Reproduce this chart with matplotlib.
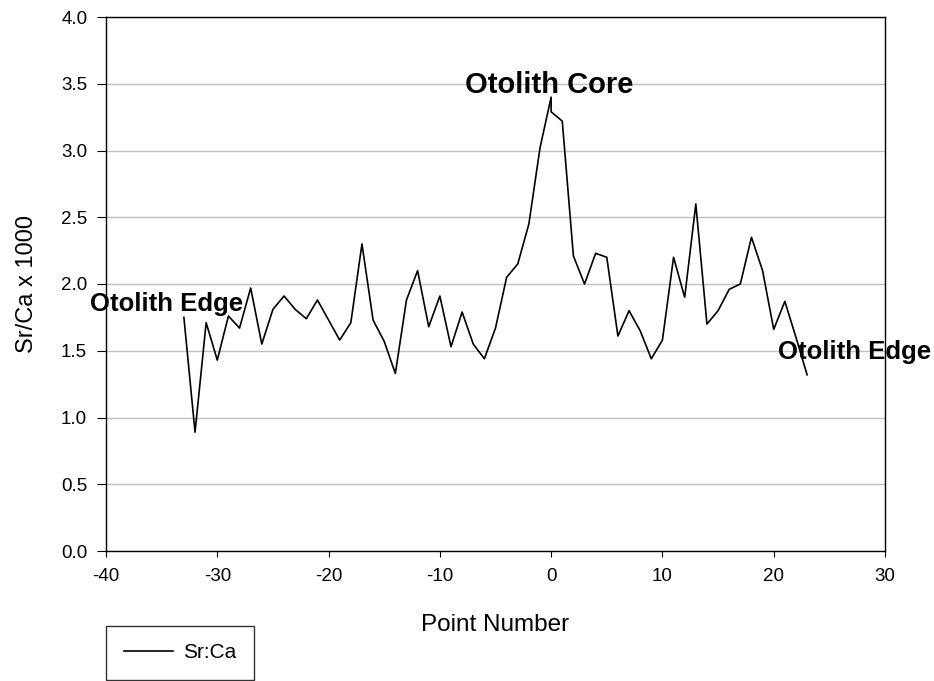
import matplotlib
matplotlib.use("Agg")
import matplotlib.pyplot as plt

plt.rcParams['font.family'] = ['Liberation Sans', 'DejaVu Sans']

point_number = [-33, -32, -31, -30, -29, -28, -27, -26, -25, -24, -23, -22, -21, -20,
                -19, -18, -17, -16, -15, -14, -13, -12, -11, -10, -9, -8, -7, -6,
                -5, -4, -3, -2, -1, 0, 0, 1, 2, 3, 4, 5, 6, 7, 8, 9, 10, 11, 12,
                13, 14, 15, 16, 17, 18, 19, 20, 21, 22, 23]
sr_ca = [1.75, 0.89, 1.71, 1.43, 1.76, 1.67, 1.97, 1.55, 1.81, 1.91, 1.81, 1.74, 1.88, 1.73,
         1.58, 1.71, 2.30, 1.73, 1.57, 1.33, 1.88, 2.10, 1.68, 1.91, 1.53, 1.79, 1.55, 1.44,
         1.67, 2.05, 2.15, 2.45, 3.02, 3.40, 3.29, 3.22, 2.21, 2.00, 2.23, 2.20, 1.61, 1.80,
         1.65, 1.44, 1.58, 2.20, 1.90, 2.60, 1.70, 1.80, 1.96, 2.00, 2.35, 2.10, 1.66, 1.87,
         1.60, 1.32]

x_ticks = [-40, -30, -20, -10, 0, 10, 20, 30]
y_ticks = [0.0, 0.5, 1.0, 1.5, 2.0, 2.5, 3.0, 3.5, 4.0]

fig = plt.figure(figsize=(9.34, 6.81), dpi=100)
ax = fig.add_axes([106/934, 1-551/681, (885-106)/934, (551-17)/681])

ax.plot(point_number, sr_ca, color='black', lw=1.2, label='Sr:Ca')

ax.set_xlim(-40, 30)
ax.set_ylim(0, 4)
ax.set_xticks(x_ticks)
ax.set_yticks(y_ticks)
ax.set_xticklabels([str(t) for t in x_ticks])
ax.set_yticklabels([f"{t:.1f}" for t in y_ticks])
ax.tick_params(axis='both', labelsize=13.5, direction='out', color='black')
ax.tick_params(axis='y', length=6.5, pad=7)
ax.tick_params(axis='x', length=4.5, pad=8)
ax.grid(axis='y', color='#c0c0c0', lw=1.0)
ax.set_axisbelow(True)
for s in ['left', 'bottom', 'top', 'right']:
    ax.spines[s].set_color('black')
    ax.spines[s].set_linewidth(1.0)

ax.set_xlabel('Point Number', fontsize=17.5)
ax.xaxis.set_label_coords(0.5, -0.118)
ax.set_ylabel('Sr/Ca x 1000', fontsize=17)
ax.yaxis.set_label_coords(-0.0873, 0.5)

ax.text(-0.2, 3.433, 'Otolith Core', fontsize=21, fontweight='bold', ha='center', va='baseline')
ax.text(-41.4, 1.795, 'Otolith Edge', fontsize=18.5, fontweight='bold', ha='left', va='baseline',
        clip_on=False)
ax.text(20.4, 1.438, 'Otolith Edge', fontsize=18.5, fontweight='bold', ha='left', va='baseline',
        clip_on=False)

leg = fig.legend(loc='lower left', bbox_to_anchor=(106/934, 1/681),
                 fontsize=15, frameon=True, fancybox=False, handlelength=2.36,
                 handletextpad=0.48, borderpad=0.85, borderaxespad=0)
leg.get_frame().set_edgecolor('black')
leg.get_frame().set_linewidth(1.0)

fig.savefig('out.png', dpi=100)
